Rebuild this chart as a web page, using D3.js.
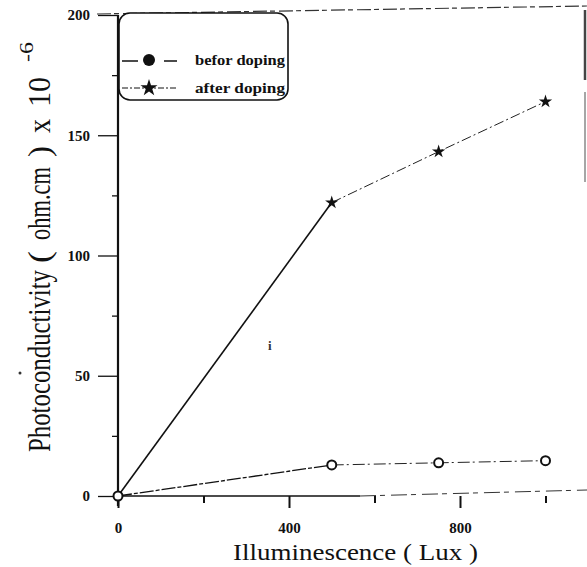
<!DOCTYPE html>
<html><head><meta charset="utf-8">
<script src="https://cdn.jsdelivr.net/npm/d3@7"></script>
<style>html,body{margin:0;padding:0;background:#fff;}svg{display:block;}
text{font-family:"Liberation Serif","Times New Roman",serif;}</style>
</head><body>
<svg id="chart" width="587" height="567"></svg>
<script>
const lux = [0, 500, 750, 1000];
const beforeDoping = [0, 12.9, 13.8, 14.7];
const afterDoping = [0, 122, 143.2, 164];
const xMajorTicks = [0, 400, 800];
const xMinorTicks = [200, 600, 1000];
const yMajorTicks = [0, 50, 100, 150, 200];
const yMinorTicks = [25, 75, 125, 175];
const seriesNames = ["befor doping", "after doping"];
const xTitle = "Illuminescence ( Lux )";
const yTitleParts = ["Photoconductivity", "(", "ohm.cm", ")", "x", "10"];
const yTitleExp = "-6";

const svg = d3.select("#chart");
const x = d3.scaleLinear().domain([0, 1000]).range([118, 545.5]);
const y = d3.scaleLinear().domain([0, 200]).range([496, 15]);
const ink = "#111";
const serif = "Liberation Serif, Times New Roman, serif";

// scan frame remnants
svg.append("line").attr("x1", 97).attr("y1", 14).attr("x2", 587).attr("y2", 6)
  .attr("stroke", "#333").attr("stroke-width", 1.2).attr("stroke-dasharray", "14,3,5,4");
svg.append("line").attr("x1", 585).attr("y1", 10).attr("x2", 585).attr("y2", 80)
  .attr("stroke", "#444").attr("stroke-width", 2.5);
svg.append("line").attr("x1", 585).attr("y1", 92).attr("x2", 585).attr("y2", 182)
  .attr("stroke", "#888").attr("stroke-width", 1.5);

// x axis line
svg.append("line").attr("x1", x(0)).attr("y1", y(0)).attr("x2", 360).attr("y2", y(0))
  .attr("stroke", ink).attr("stroke-width", 1.4);
svg.append("line").attr("x1", 360).attr("y1", y(0)).attr("x2", 587).attr("y2", y(0) - 6)
  .attr("stroke", "#333").attr("stroke-width", 1).attr("stroke-dasharray", "16,4,5,6");

// axes through d3
const xAxisMajor = d3.axisBottom(x).tickValues(xMajorTicks).tickSize(12).tickSizeOuter(0).tickPadding(14)
  .tickFormat(d3.format("d"));
const gx = svg.append("g").attr("transform", `translate(0,${y(0)})`).call(xAxisMajor)
  .attr("font-family", serif);
gx.select(".domain").remove();
gx.selectAll(".tick line").attr("stroke", ink).attr("stroke-width", 2);
gx.selectAll(".tick text").attr("fill", ink).style("font-family", serif)
  .style("font-weight", "bold").style("font-size", "15px");
const gxm = svg.append("g").attr("transform", `translate(0,${y(0)})`)
  .call(d3.axisBottom(x).tickValues(xMinorTicks).tickSize(7).tickFormat(""));
gxm.select(".domain").remove();
gxm.selectAll(".tick line").attr("stroke", ink).attr("stroke-width", 2);

const yAxisMajor = d3.axisLeft(y).tickValues(yMajorTicks).tickSize(20).tickSizeOuter(0).tickPadding(8)
  .tickFormat(d3.format("d"));
const gy = svg.append("g").attr("transform", `translate(${x(0)},0)`).call(yAxisMajor)
  .attr("font-family", serif);
gy.select(".domain").remove();
gy.selectAll(".tick line").attr("stroke", ink).attr("stroke-width", 1.3);
gy.selectAll(".tick text").attr("fill", ink).style("font-family", serif)
  .style("font-weight", "bold").style("font-size", "15px");
const gym = svg.append("g").attr("transform", `translate(${x(0)},0)`)
  .call(d3.axisLeft(y).tickValues(yMinorTicks).tickSize(6).tickFormat(""));
gym.select(".domain").remove();
gym.selectAll(".tick line").attr("stroke", ink).attr("stroke-width", 1.3);

// y axis line
svg.append("line").attr("x1", x(0)).attr("y1", y(200)).attr("x2", x(0)).attr("y2", y(0) + 10)
  .attr("stroke", ink).attr("stroke-width", 2.2);

// series lines
const line = d3.line().x(d => x(d[0])).y(d => y(d[1]));
function drawSeries(vals, firstDash, restDash, w1) {
  const pts = lux.map((l, i) => [l, vals[i]]);
  svg.append("path").attr("d", line(pts.slice(0, 2))).attr("fill", "none")
    .attr("stroke", ink).attr("stroke-width", w1).attr("stroke-dasharray", firstDash);
  svg.append("path").attr("d", line(pts.slice(1))).attr("fill", "none")
    .attr("stroke", "#222").attr("stroke-width", 1).attr("stroke-dasharray", restDash);
  return pts;
}
const afterPts = drawSeries(afterDoping, null, "10,3,2,3", 1.6);
const beforePts = drawSeries(beforeDoping, "14,2,4,2", "12,3,2,4", 1.3);

const star = d3.symbol().type(d3.symbolStar).size(55);
svg.selectAll(".star").data(afterPts.slice(1)).join("path").attr("class", "star")
  .attr("transform", d => `translate(${x(d[0])},${y(d[1])})`).attr("d", star).attr("fill", ink);
svg.selectAll(".circ").data(beforePts).join("circle").attr("class", "circ")
  .attr("cx", d => x(d[0])).attr("cy", d => y(d[1])).attr("r", 4.5)
  .attr("fill", "#fff").attr("stroke", ink).attr("stroke-width", 2);

// legend
const lg = svg.append("g");
lg.append("rect").attr("x", 119).attr("y", 13).attr("width", 169).attr("height", 87)
  .attr("rx", 11).attr("fill", "#fff").attr("stroke", ink).attr("stroke-width", 1.6);
lg.append("line").attr("x1", 122).attr("y1", 61).attr("x2", 177).attr("y2", 61)
  .attr("stroke", ink).attr("stroke-width", 1.4).attr("stroke-dasharray", "16,26");
lg.append("circle").attr("cx", 149).attr("cy", 60).attr("r", 6).attr("fill", ink);
lg.append("line").attr("x1", 122).attr("y1", 88).attr("x2", 177).attr("y2", 88)
  .attr("stroke", ink).attr("stroke-width", 1).attr("stroke-dasharray", "6,2,2,2");
lg.append("path").attr("transform", "translate(149,88)")
  .attr("d", d3.symbol().type(d3.symbolStar).size(90)()).attr("fill", ink);
lg.selectAll(".lt").data(seriesNames).join("text").attr("class", "lt")
  .attr("x", 195).attr("y", (d, i) => 65 + i * 28)
  .attr("textLength", 90).attr("lengthAdjust", "spacingAndGlyphs")
  .style("font-family", serif).style("font-weight", "bold").style("font-size", "14px")
  .attr("fill", ink).text(d => d);

// titles
svg.append("text").attr("x", 233).attr("y", 560)
  .attr("textLength", 245).attr("lengthAdjust", "spacingAndGlyphs")
  .style("font-family", serif).style("font-size", "24px").attr("fill", ink).text(xTitle);

const yPartOffsets = [0, 189, 212, 295, 319, 345];
const yPartLengths = [182, 12, 73, 11, 14, 30];
const yt = svg.append("text").attr("transform", "translate(50,452) rotate(-90)")
  .style("font-family", serif).style("font-size", "31px").attr("fill", ink);
yTitleParts.forEach((p, i) => {
  yt.append("tspan").attr("x", yPartOffsets[i]).attr("y", 0)
    .attr("textLength", yPartLengths[i]).attr("lengthAdjust", "spacingAndGlyphs").text(p);
});
yt.append("tspan").attr("x", 390).attr("y", -17).style("font-size", "18px")
  .attr("textLength", 20).attr("lengthAdjust", "spacingAndGlyphs").text(yTitleExp);

// scan specks
svg.append("text").attr("x", 268).attr("y", 350).style("font-family", serif)
  .style("font-weight", "bold").style("font-size", "13px").attr("fill", "#333").text("i");
svg.append("circle").attr("cx", 20).attr("cy", 373).attr("r", 1.5).attr("fill", "#333");
</script>
</body></html>
